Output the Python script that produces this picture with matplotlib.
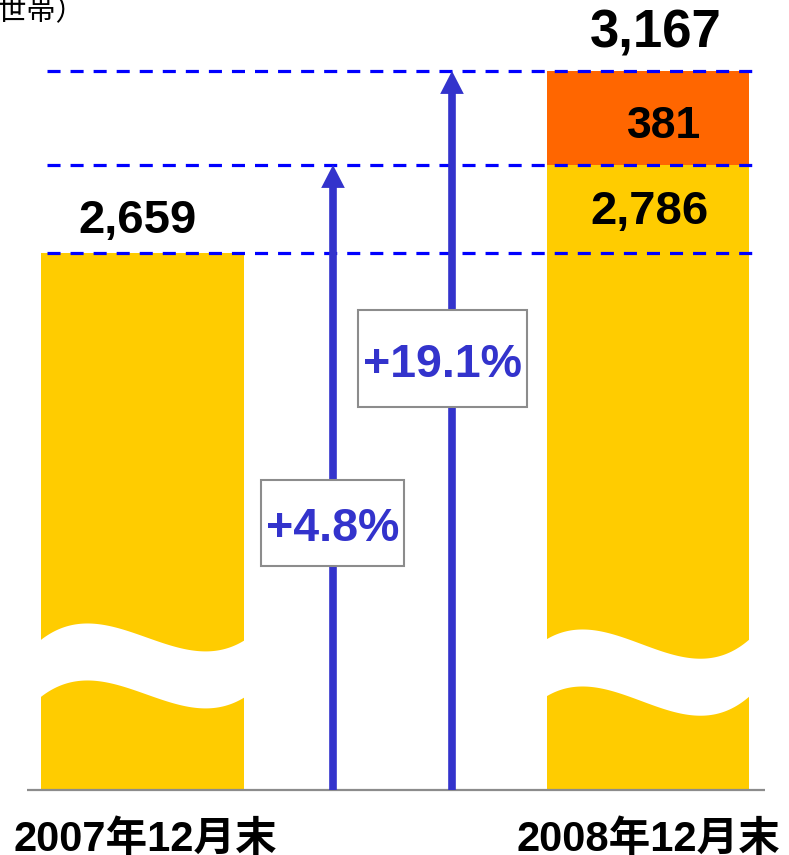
import numpy as np
import matplotlib
matplotlib.use('Agg')
import matplotlib.pyplot as plt
from matplotlib.patches import Rectangle, Polygon
from matplotlib.transforms import Affine2D, blended_transform_factory

plt.rcParams['lines.scale_dashes'] = False

# ---------------- data ----------------
categories = ['2007年12月末', '2008年12月末']
base_values = [2659, 2786]
added_values = [0, 381]
unit_label = '（千世帯）'

totals = [b + a for b, a in zip(base_values, added_values)]
growth_base = (base_values[1] / base_values[0] - 1) * 100
growth_total = (totals[1] / base_values[0] - 1) * 100

# ---------------- layout ----------------
W, H = 789, 855
BASE_PX = 790
YELLOW = '#FFCC00'
ORANGE = '#FF6600'
ARROW = '#3333CC'
DASH = '#0000FF'
GRAY = '#8C8C8C'
NUM_FONT = ['Liberation Sans', 'DejaVu Sans']
CJK_FONT = ['Liberation Sans', 'Noto Sans CJK JP', 'DejaVu Sans']

fig = plt.figure(figsize=(W / 100, H / 100), dpi=100)
fig.patch.set_facecolor('white')
ax = fig.add_axes([0, (H - BASE_PX) / H, 1, BASE_PX / H])

# not-to-scale (broken) value axis: piecewise mapping of values to heights
anchor_v = [0, base_values[0], base_values[1], totals[1]]
anchor_h = [0, 537, 625, 719]
slope = 0.25


def fwd(v):
    v = np.asarray(v, float)
    out = np.interp(v, anchor_v, anchor_h)
    out = np.where(v > anchor_v[-1], anchor_h[-1] + (v - anchor_v[-1]) * slope, out)
    out = np.where(v < 0, v * anchor_h[1] / anchor_v[1], out)
    return out


def inv(h):
    h = np.asarray(h, float)
    out = np.interp(h, anchor_h, anchor_v)
    out = np.where(h > anchor_h[-1], anchor_v[-1] + (h - anchor_h[-1]) / slope, out)
    out = np.where(h < 0, h * anchor_v[1] / anchor_h[1], out)
    return out


ax.set_yscale('function', functions=(fwd, inv))
ax.set_ylim(0, float(inv(BASE_PX)))
X_SPACING = 505.5
X0 = 142.5
ax.set_xlim(-X0 / X_SPACING, (W - X0) / X_SPACING)
ax.set_axis_off()


def pxx(p):
    return (p - X0) / X_SPACING


px = Affine2D().scale(1 / W, -1 / H).translate(0, 1) + fig.transFigure
xdata_ypx = blended_transform_factory(ax.transData, px)

x = np.arange(len(categories))
BW = 0.4
ax.bar(x, base_values, width=BW, color=YELLOW, linewidth=0, zorder=1)
ax.bar(x, added_values, width=BW, bottom=base_values, color=ORANGE, linewidth=0, zorder=1)

# break (wave) marks
waves = [(0, 642, 639, 584, 685), (1, 641, 637, 596, 702)]
for i, y0, y1, a, b in waves:
    t = np.linspace(0, 1, 120)
    xs = (x[i] - BW / 2 - 0.006) + (BW + 0.012) * t
    ys = (1 - t) ** 3 * y0 + 3 * (1 - t) ** 2 * t * a + 3 * (1 - t) * t ** 2 * b + t ** 3 * y1
    verts = np.vstack([np.column_stack([xs, ys]),
                       np.column_stack([xs[::-1], ys[::-1] + 57])])
    ax.add_patch(Polygon(verts, closed=True, transform=xdata_ypx,
                         facecolor='white', edgecolor='none', zorder=2))

# baseline
ax.plot([pxx(27), pxx(765)], [0, 0], color=GRAY, lw=1.6, clip_on=False, zorder=3,
        solid_capstyle='butt')

# dashed reference lines
for v in [base_values[0], base_values[1], totals[1]]:
    ax.plot([pxx(47), pxx(752)], [v, v], color=DASH, lw=2.3,
            dashes=(9.4, 7.2), zorder=4, clip_on=False)

# growth arrows
arrow_specs = [(pxx(333), base_values[1]), (pxx(452), totals[1])]
for xa, top in arrow_specs:
    ax.annotate('', xy=(xa, top), xytext=(xa, 0), xycoords='data',
                annotation_clip=False,
                arrowprops=dict(arrowstyle='simple,head_length=16.5,head_width=17,tail_width=5.5',
                                mutation_scale=1, facecolor=ARROW, edgecolor='none',
                                lw=0, shrinkA=0, shrinkB=0), zorder=5)

# percentage boxes
boxes = [((261, 480, 143, 86), (332.5, 541), f'+{growth_base:.1f}%'),
         ((358, 310, 169, 97), (442.5, 377), f'+{growth_total:.1f}%')]
for (bx, by, bw, bh), (tx, ty), s in boxes:
    ax.add_patch(Rectangle((bx, by), bw, bh, transform=px, facecolor='white',
                           edgecolor=GRAY, lw=1.5, zorder=6, clip_on=False))
    ax.text(tx, ty, s, transform=px, ha='center', va='baseline', fontsize=33.5,
            fontweight='bold', color=ARROW, family=NUM_FONT, zorder=7)

# value labels
ax.annotate(f'{base_values[0]:,}', xy=(x[0], base_values[0]), xytext=(-5, 20),
            textcoords='offset pixels', ha='center', va='baseline', fontsize=34,
            fontweight='bold', family=NUM_FONT, annotation_clip=False, zorder=8)
ax.annotate(f'{totals[1]:,}', xy=(x[1], totals[1]), xytext=(8, 23),
            textcoords='offset pixels', ha='center', va='baseline', fontsize=38,
            fontweight='bold', family=NUM_FONT, annotation_clip=False, zorder=8)
ax.annotate(f'{added_values[1]:,}', xy=(x[1], base_values[1] + added_values[1] / 2),
            xytext=(16, -20), textcoords='offset pixels', ha='center', va='baseline',
            fontsize=32, fontweight='bold', family=NUM_FONT, annotation_clip=False, zorder=8)
ax.annotate(f'{base_values[1]:,}', xy=(x[1], base_values[1]), xytext=(1, -59),
            textcoords='offset pixels', ha='center', va='baseline', fontsize=34,
            fontweight='bold', family=NUM_FONT, annotation_clip=False, zorder=8)

# category labels
for i, (lab, dx) in enumerate(zip(categories, [2.5, 0])):
    ax.annotate(lab, xy=(x[i], 0), xytext=(dx, -61), textcoords='offset pixels',
                ha='center', va='baseline', fontsize=30, fontweight='bold',
                family=CJK_FONT, annotation_clip=False)

# unit label (partly cut off at the left edge, as in the reference)
ax.text(85, 20, unit_label, transform=px, ha='right', va='baseline', fontsize=21,
        family=['Noto Sans CJK JP', 'DejaVu Sans'])

fig.savefig('out.png', dpi=100, facecolor='white')
